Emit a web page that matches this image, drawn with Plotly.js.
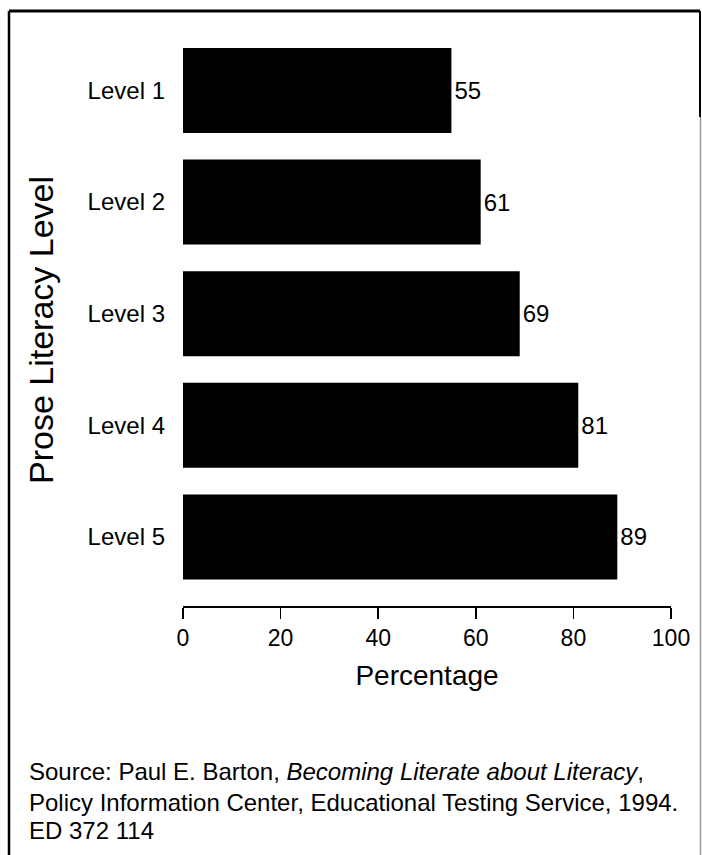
<!DOCTYPE html>
<html>
<head>
<meta charset="utf-8">
<script src="https://cdn.plot.ly/plotly-3.0.1.min.js"></script>
<style>
html,body{margin:0;padding:0;background:#fff;}
#chart{width:702px;height:855px;}
</style>
</head>
<body>
<div id="chart"></div>
<script>
const levels = ["Level 1", "Level 2", "Level 3", "Level 4", "Level 5"];
const percentages = [55, 61, 69, 81, 89];
const xTicks = [0, 20, 40, 60, 80, 100];
const xTitle = "Percentage";
const yTitle = "Prose Literacy Level";
const sourceLines = [
  "Source: Paul E. Barton, <i>Becoming Literate about Literacy</i>,",
  "Policy Information Center, Educational Testing Service, 1994.",
  "ED 372 114"
];

const W = 702, H = 855;
const L = 183, R = 31, T = 35, B = 249;
const pw = W - L - R, ph = H - T - B;
const px = v => (v - L) / pw;
const py = v => (H - B - v) / ph;

const FONT = "Liberation Sans, Arial, Helvetica, sans-serif";

const trace = {
  type: "bar",
  orientation: "h",
  y: levels,
  x: percentages,
  marker: {color: "#000000", line: {width: 0}},
  text: percentages.map(String),
  textposition: "outside",
  textfont: {family: FONT, size: 24, color: "#000"},
  cliponaxis: false,
  hoverinfo: "none"
};

const annotations = [
  {xref: "paper", yref: "paper", x: px(41), y: py(330), text: yTitle, showarrow: false,
   textangle: -90, xanchor: "center", yanchor: "middle",
   font: {family: FONT, size: 34, color: "#000"}}
];
const lineY = [772, 802, 831];
sourceLines.forEach((s, i) => {
  annotations.push({xref: "paper", yref: "paper", x: px(27), y: py(lineY[i]), text: s,
    showarrow: false, xanchor: "left", yanchor: "middle", align: "left",
    font: {family: FONT, size: 24, color: "#000"}});
});

const shapes = [
  {type: "line", xref: "paper", yref: "paper", x0: px(9), x1: px(700), y0: py(11), y1: py(11), line: {color: "#000", width: 3}},
  {type: "line", xref: "paper", yref: "paper", x0: px(9), x1: px(9), y0: py(11), y1: py(860), line: {color: "#000", width: 2.5}},
  {type: "line", xref: "paper", yref: "paper", x0: px(700), x1: px(700), y0: py(11), y1: py(117), line: {color: "#000", width: 2}},
  {type: "line", xref: "paper", yref: "paper", x0: px(700.5), x1: px(700.5), y0: py(117), y1: py(860), line: {color: "#999", width: 1.5}}
];

const layout = {
  width: W, height: H,
  margin: {l: L, r: R, t: T, b: B, pad: 0},
  paper_bgcolor: "#fff", plot_bgcolor: "#fff",
  showlegend: false,
  bargap: 0.238,
  font: {family: FONT, color: "#000"},
  xaxis: {
    range: [0, 100], tickvals: xTicks, ticktext: xTicks.map(String),
    showgrid: false, zeroline: false, showline: true, linecolor: "#000", linewidth: 1.5,
    ticks: "outside", ticklen: 11, tickwidth: 1.5, tickcolor: "#000",
    tickfont: {family: FONT, size: 23, color: "#000"},
    title: {text: xTitle, font: {family: FONT, size: 28, color: "#000"}, standoff: 15},
    fixedrange: true
  },
  yaxis: {
    type: "category", categoryorder: "array", categoryarray: levels,
    range: [4.619, -0.497],
    showgrid: false, zeroline: false, showline: false, ticks: "",
    ticklabelstandoff: 17,
    tickfont: {family: FONT, size: 24, color: "#000"},
    fixedrange: true
  },
  annotations: annotations,
  shapes: shapes
};

Plotly.newPlot("chart", [trace], layout, {staticPlot: true, displayModeBar: false});
</script>
</body>
</html>
